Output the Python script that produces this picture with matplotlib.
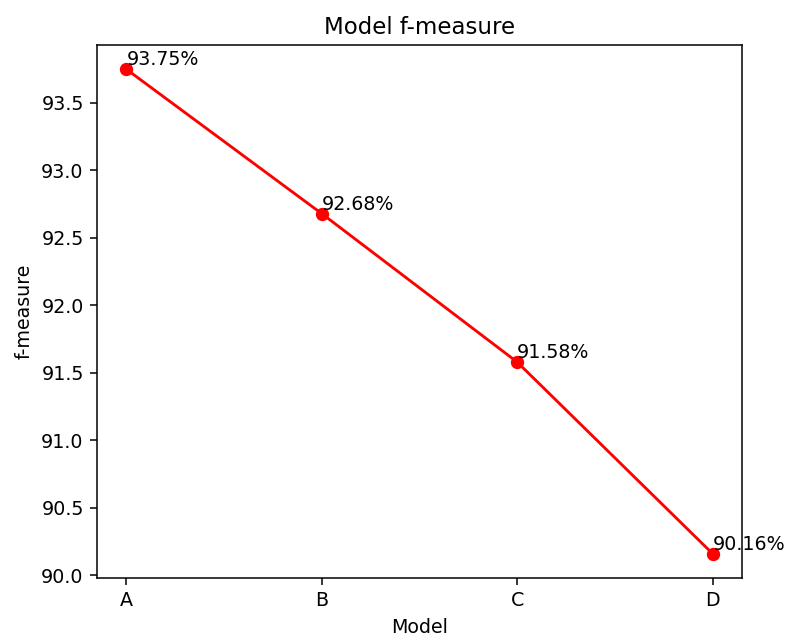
import matplotlib
matplotlib.use('Agg')
import matplotlib.pyplot as plt

# f-measure per model
models = ['A', 'B', 'C', 'D']
fmeasure = [93.75, 92.68, 91.58, 90.16]

fig, ax = plt.subplots(figsize=(787 / 137, 637 / 137), dpi=137)
ax.plot(models, fmeasure, marker='o', color='red')
for i, v in enumerate(fmeasure):
    ax.text(i, v, f'{v:.2f}%', va='bottom')

ax.set_title('Model f-measure')
ax.set_xlabel('Model')
ax.set_ylabel('f-measure')

plt.subplots_adjust(left=97 / 787, right=742 / 787, top=1 - 45 / 637, bottom=1 - 578 / 637)
plt.savefig('out.png', dpi=137)
